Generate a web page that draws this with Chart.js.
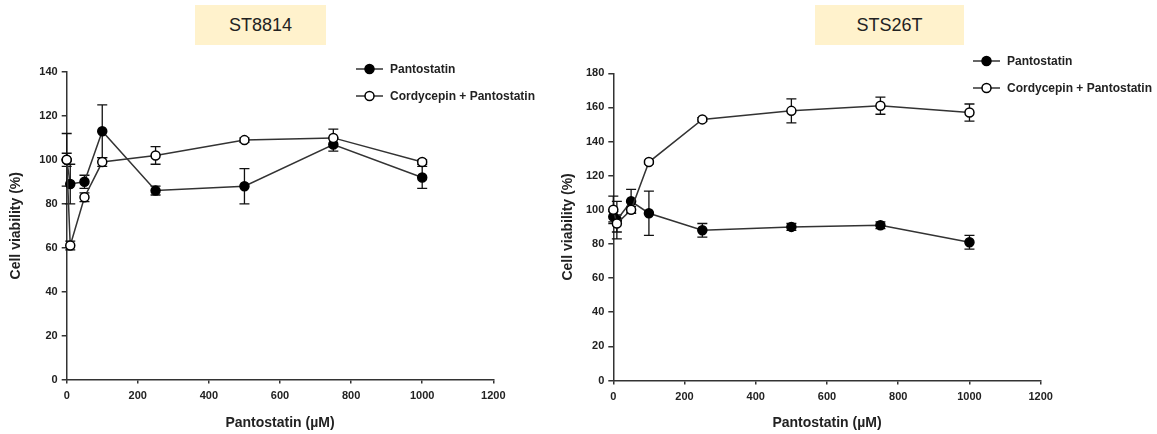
<!DOCTYPE html>
<html><head><meta charset="utf-8">
<script src="https://cdn.jsdelivr.net/npm/chart.js@4/dist/chart.umd.min.js"></script>
<style>
html,body{margin:0;padding:0;background:#fff}
body{width:1157px;height:434px;position:relative;overflow:hidden;font-family:"Liberation Sans",Arial,sans-serif}
.box{position:absolute;background:#FFF2CC;color:#222;font-size:18px;display:flex;align-items:center;justify-content:center}
.wrap{position:absolute;top:0;height:434px}
</style></head><body>
<div class="box" style="left:195px;top:5px;width:131px;height:40px">ST8814</div>
<div class="box" style="left:815px;top:5px;width:149px;height:40px">STS26T</div>
<div class="wrap" style="left:0;width:560px"><canvas id="ch1"></canvas></div>
<div class="wrap" style="left:560px;width:597px"><canvas id="ch2"></canvas></div>
<script>
// ---- data ----
const concentrations = [0, 10, 50, 100, 250, 500, 750, 1000];
const xTickValues = [0, 200, 400, 600, 800, 1000, 1200];
const st8814YTicks = [0, 20, 40, 60, 80, 100, 120, 140];
const sts26tYTicks = [0, 20, 40, 60, 80, 100, 120, 140, 160, 180];

const st8814Pantostatin = [100, 89, 90, 113, 86, 88, 107, 92];
const st8814PantostatinErr = [12, 9, 3, 12, 2, 8, 3, 5];
const st8814Combo = [100, 61, 83, 99, 102, 109, 110, 99];
const st8814ComboErr = [3, 2, 2, 2, 4, 1, 4, 1];

const sts26tPantostatin = [96, 94, 105, 98, 88, 90, 91, 81];
const sts26tPantostatinErr = [3, 11, 7, 13, 4, 2, 2, 4];
const sts26tCombo = [100, 92, 100, 128, 153, 158, 161, 157];
const sts26tComboErr = [8, 5, 2, 1, 1, 7, 5, 5];

const seriesNames = ['Pantostatin', 'Cordycepin + Pantostatin'];
const xTitle = 'Pantostatin (µM)';
const yTitle = 'Cell viability (%)';

// ---- styling / plugins ----
const FAMILY = '"Liberation Sans", Arial, sans-serif';
const AXIS = '#333';
const TEXT = '#222';

const errorBars = {
  id: 'errorBars',
  beforeDatasetsDraw(chart) {
    const ctx = chart.ctx;
    const ys = chart.scales.y;
    ctx.save();
    ctx.strokeStyle = '#111';
    ctx.lineWidth = 1.3;
    chart.data.datasets.forEach((ds, di) => {
      const meta = chart.getDatasetMeta(di);
      meta.data.forEach((pt, i) => {
        const v = ds.data[i].y, e = ds.errors[i];
        const yTop = ys.getPixelForValue(v + e);
        const yBot = ys.getPixelForValue(v - e);
        const x = pt.x, w = 5;
        ctx.beginPath();
        ctx.moveTo(x, yTop); ctx.lineTo(x, yBot);
        ctx.moveTo(x - w, yTop); ctx.lineTo(x + w, yTop);
        ctx.moveTo(x - w, yBot); ctx.lineTo(x + w, yBot);
        ctx.stroke();
      });
    });
    ctx.restore();
  }
};

const customLegend = {
  id: 'customLegend',
  afterDraw(chart, args, opts) {
    const ctx = chart.ctx;
    ctx.save();
    opts.items.forEach((it, k) => {
      const y = opts.y + k * opts.gap;
      ctx.strokeStyle = AXIS; ctx.lineWidth = 1.5;
      ctx.beginPath(); ctx.moveTo(opts.x, y); ctx.lineTo(opts.x + opts.len, y); ctx.stroke();
      ctx.beginPath(); ctx.arc(opts.x + opts.len / 2, y, 4.5, 0, Math.PI * 2);
      ctx.fillStyle = it.fill; ctx.fill();
      ctx.strokeStyle = '#000'; ctx.lineWidth = 1.5; ctx.stroke();
      ctx.fillStyle = TEXT;
      ctx.font = 'bold 12px ' + FAMILY;
      ctx.textBaseline = 'middle';
      ctx.fillText(it.text, opts.x + opts.len + 7, y + 0.5);
    });
    ctx.restore();
  }
};

function series(values, errors, filled, order) {
  return {
    data: concentrations.map((c, i) => ({ x: c, y: values[i] })),
    errors: errors,
    borderColor: AXIS,
    borderWidth: 1.5,
    pointRadius: 4.5,
    pointBorderWidth: 1.5,
    pointBackgroundColor: filled ? '#000' : '#fff',
    pointBorderColor: '#000',
    fill: false,
    tension: 0,
    clip: false,
    order: order
  };
}

function makeChart(id, cfg) {
  const tickFont = { family: FAMILY, size: 11, weight: 'bold' };
  const titleFont = { family: FAMILY, size: 14, weight: 'bold' };
  const grid = { drawOnChartArea: false, drawTicks: true, color: AXIS, lineWidth: 1.5 };
  return new Chart(document.getElementById(id), {
    type: 'line',
    data: {
      datasets: [
        series(cfg.combo, cfg.comboErr, false, 0),
        series(cfg.panto, cfg.pantoErr, true, 1)
      ]
    },
    options: {
      responsive: true,
      maintainAspectRatio: false,
      animation: false,
      events: [],
      layout: { padding: { left: cfg.padL, right: cfg.padR, top: cfg.padT, bottom: 2 } },
      plugins: {
        legend: { display: false },
        tooltip: { enabled: false },
        customLegend: {
          x: cfg.legX, y: cfg.legY, gap: cfg.legGap, len: 27,
          items: [{ text: seriesNames[0], fill: '#000' }, { text: seriesNames[1], fill: '#fff' }]
        }
      },
      scales: {
        x: {
          type: 'linear', min: 0, max: 1200,
          afterBuildTicks: s => { s.ticks = xTickValues.map(v => ({ value: v })); },
          afterFit: s => { s.height = cfg.xH; },
          grid: Object.assign({ tickLength: 4 }, grid),
          border: { display: true, color: AXIS, width: 1.5 },
          ticks: { font: tickFont, color: TEXT, padding: 6, maxRotation: 0, autoSkip: false, callback: v => String(v) },
          title: { display: true, text: xTitle, font: titleFont, color: TEXT, padding: { top: 0, bottom: 0 } }
        },
        y: {
          type: 'linear', min: 0, max: cfg.yTicks[cfg.yTicks.length - 1],
          afterBuildTicks: s => { s.ticks = cfg.yTicks.map(v => ({ value: v })); },
          afterFit: s => { s.width = cfg.yW; },
          grid: Object.assign({ tickLength: 5 }, grid),
          border: { display: true, color: AXIS, width: 1.5 },
          ticks: { font: tickFont, color: TEXT, padding: 4, autoSkip: false, callback: v => String(v) },
          title: { display: true, text: yTitle, font: titleFont, color: TEXT, padding: { top: 0, bottom: 0 } }
        }
      }
    },
    plugins: [errorBars, customLegend]
  });
}

makeChart('ch1', {
  panto: st8814Pantostatin, pantoErr: st8814PantostatinErr,
  combo: st8814Combo, comboErr: st8814ComboErr,
  yTicks: st8814YTicks,
  padL: 8, yW: 58.7, padR: 66.7, padT: 72, xH: 52.5,
  legX: 356, legY: 69, legGap: 27
});
makeChart('ch2', {
  panto: sts26tPantostatin, pantoErr: sts26tPantostatinErr,
  combo: sts26tCombo, comboErr: sts26tComboErr,
  yTicks: sts26tYTicks,
  padL: 0, yW: 53.3, padR: 116.3, padT: 73.3, xH: 51.5,
  legX: 413, legY: 61, legGap: 27
});
</script>
</body></html>
